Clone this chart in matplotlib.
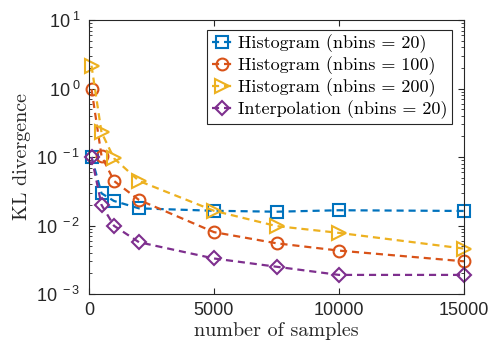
import math

import matplotlib
matplotlib.use("Agg")
import matplotlib.pyplot as plt
from matplotlib.ticker import LogLocator, FixedLocator, FuncFormatter

# data
n_samples = [100, 500, 1000, 2000, 5000, 7500, 10000, 15000]
hist_20 = [0.100, 0.0295, 0.0228, 0.0178, 0.0164, 0.0159, 0.0167, 0.0163]
hist_100 = [0.98, 0.104, 0.0447, 0.0236, 0.0080, 0.0055, 0.0043, 0.0030]
hist_200 = [2.15, 0.229, 0.0957, 0.0447, 0.0164, 0.0098, 0.0078, 0.0046]
interp_20 = [0.100, 0.0200, 0.0099, 0.0057, 0.0033, 0.0025, 0.0019, 0.0019]

labels = [
    "Histogram (nbins = 20)",
    "Histogram (nbins = 100)",
    "Histogram (nbins = 200)",
    "Interpolation (nbins = 20)",
]
colors = ["#0072BD", "#D95319", "#EDB120", "#7E2F8E"]
markers = ["s", "o", ">", "D"]
x_ticks = [0, 5000, 10000, 15000]

plt.rcParams["mathtext.fontset"] = "custom"
plt.rcParams["mathtext.rm"] = "Liberation Sans"
plt.rcParams["axes.unicode_minus"] = False

AX_COL = "#262626"

fig = plt.figure(figsize=(4.89, 3.5), dpi=100)
ax = fig.add_axes([89 / 489, 1 - 294 / 350, (464 - 89) / 489, (294 - 20) / 350])

series = [hist_20, hist_100, hist_200, interp_20]
for ys, lab, c, m in zip(series, labels, colors, markers):
    ms = 9.5 if m == ">" else (7.5 if m == "D" else 8.5)
    ax.plot(n_samples, ys, ls="--", lw=1.6, color=c, marker=m, ms=ms,
            mfc="none", mew=1.5, label=lab, clip_on=False,
            dashes=(3.2, 2.2))

ax.set_yscale("log")
ax.set_xlim(0, 15000)
ax.set_ylim(1e-3, 10)
ax.xaxis.set_major_locator(FixedLocator(x_ticks))
ax.xaxis.set_major_formatter(FuncFormatter(lambda v, p: f"{int(v)}"))
ax.yaxis.set_major_locator(LogLocator(base=10, numticks=10))
ax.yaxis.set_minor_locator(LogLocator(base=10, subs=range(2, 10), numticks=20))
ax.yaxis.set_major_formatter(
    FuncFormatter(lambda v, p: r"$10^{\;%d}$" % round(math.log10(v))))

for s in ax.spines.values():
    s.set_color(AX_COL)
    s.set_linewidth(0.8)
ax.tick_params(which="both", direction="in", top=True, right=True,
               colors=AX_COL, labelcolor=AX_COL)
ax.tick_params(which="major", length=4.5, labelsize=13, pad=6)
ax.tick_params(which="minor", length=2.5)
for t in ax.get_xticklabels() + ax.get_yticklabels():
    t.set_fontfamily("Liberation Sans")

ax.set_xlabel("number of samples", fontfamily="cmr10", fontsize=14.5,
              color=AX_COL, labelpad=2)
ax.set_ylabel("KL divergence", fontfamily="cmr10", fontsize=14.5,
              color=AX_COL, labelpad=4)

leg = ax.legend(loc="upper right", bbox_to_anchor=(452 / 489, 1 - 30 / 350),
                bbox_transform=fig.transFigure, prop={"family": "cmr10", "size": 13},
                handlelength=1.1, handletextpad=0.35, borderpad=0.25,
                labelspacing=0.18, borderaxespad=0, fancybox=False, framealpha=1)
leg.get_frame().set_edgecolor(AX_COL)
leg.get_frame().set_linewidth(0.8)

fig.savefig("out.png", dpi=100)
